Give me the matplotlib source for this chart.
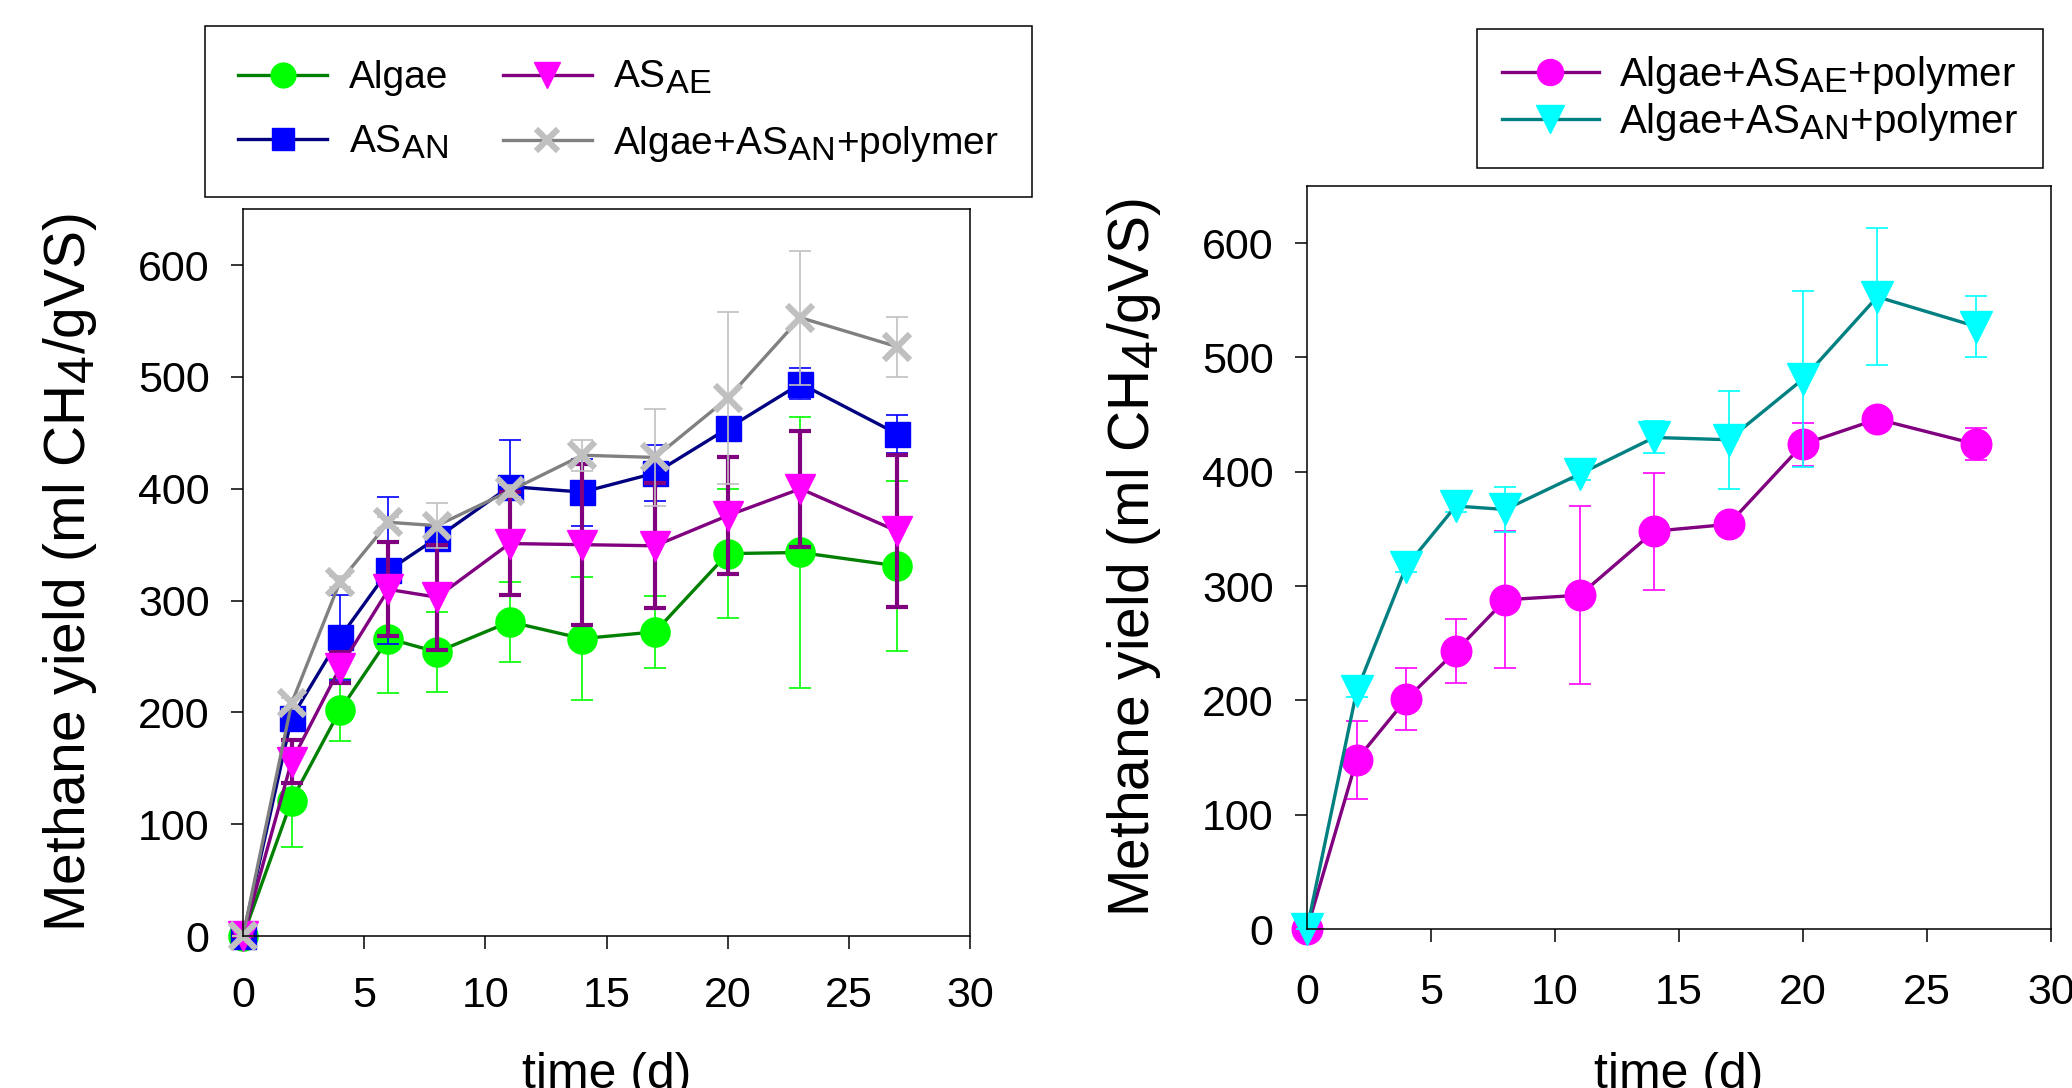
import matplotlib
matplotlib.use('Agg')
import matplotlib.pyplot as plt
import matplotlib._mathtext as mathtext_internal
from matplotlib.lines import Line2D

plt.rcParams['font.family'] = ['Liberation Sans', 'DejaVu Sans']
plt.rcParams['mathtext.fontset'] = 'custom'
plt.rcParams['mathtext.rm'] = 'Liberation Sans'
plt.rcParams['mathtext.it'] = 'Liberation Sans:italic'
plt.rcParams['mathtext.bf'] = 'Liberation Sans:bold'
# subscripts in the original are almost full size
mathtext_internal.SHRINK_FACTOR = 0.88

# time (d)
days = [0, 2, 4, 6, 8, 11, 14, 17, 20, 23, 27]

# methane yield (ml CH4/gVS) and error half-widths
algae = [0, 121, 202, 266, 254, 281, 266, 272, 342, 343, 331]
algae_err = [0, 41, 28, 49, 36, 36, 55, 32, 58, 121, 76]

as_an = [0, 195, 267, 327, 356, 402, 397, 414, 454, 494, 449]
as_an_err = [0, 8, 38, 66, 10, 42, 30, 25, 8, 14, 17]

as_ae = [0, 156, 240, 310, 303, 351, 350, 349, 376, 400, 362]
as_ae_err = [0, 19, 14, 42, 47, 46, 72, 56, 52, 52, 68]

an_poly = [0, 208, 317, 370, 367, 398, 430, 428, 481, 553, 527]
an_poly_err = [0, 5, 5, 5, 20, 5, 14, 43, 77, 60, 27]

ae_poly = [0, 148, 201, 243, 288, 292, 348, 354, 424, 446, 424]
ae_poly_err = [0, 34, 27, 28, 60, 78, 51, 5, 19, 5, 14]

TICK_FS = 31
XLABEL_FS = 36
YLABEL_FS = 41
LEG_FS = 28

fig = plt.figure(figsize=(20.72, 10.88), dpi=100)
ax1 = fig.add_axes([0.1173, 0.1397, 0.3509, 0.668])
ax2 = fig.add_axes([0.6308, 0.1461, 0.359, 0.683])


def series(ax, y, err, line_c, mk_c, err_c, marker, ms, elw=1.2, mew=1.0, capthick=1.2):
    ax.errorbar(days, y, yerr=err, fmt='none', ecolor=err_c, elinewidth=elw,
                capsize=8, capthick=capthick, clip_on=False)
    ax.plot(days, y, color=line_c, lw=2.4, marker=marker, ms=ms,
            mfc=mk_c, mec=mk_c, mew=mew, clip_on=False)
    return Line2D([], [], color=line_c, lw=2.4, marker=marker, ms=ms * 0.85,
                  mfc=mk_c, mec=mk_c, mew=mew)


h1 = series(ax1, algae, algae_err, '#008000', '#00ff00', '#00ff00', 'o', 21)
h2 = series(ax1, as_an, as_an_err, '#000080', '#0000ff', '#0000ff', 's', 18)
h3 = series(ax1, as_ae, as_ae_err, '#800080', '#ff00ff', '#800080', 'v', 22,
            elw=3.0, capthick=3.0)
h4 = series(ax1, an_poly, an_poly_err, '#808080', '#c0c0c0', '#c0c0c0', 'x', 19,
            mew=4.5)

g1 = series(ax2, ae_poly, ae_poly_err, '#800080', '#ff00ff', '#ff00ff', 'o', 22)
g2 = series(ax2, an_poly, an_poly_err, '#008080', '#00ffff', '#00ffff', 'v', 23)

for ax in (ax1, ax2):
    ax.set_xlim(0, 30)
    ax.set_ylim(0, 650)
    ax.set_xticks([0, 5, 10, 15, 20, 25, 30])
    ax.set_yticks([0, 100, 200, 300, 400, 500, 600])
    ax.tick_params(direction='out', length=9, width=1.1, labelsize=TICK_FS,
                   top=False, right=False)
    for s in ax.spines.values():
        s.set_linewidth(1.1)
    ax.set_xlabel('time (d)', fontsize=XLABEL_FS)
    ax.set_ylabel('Methane yield (ml CH$_4$/gVS)', fontsize=YLABEL_FS)

ax1.tick_params(axis='x', pad=20)
ax1.tick_params(axis='y', pad=15)
ax2.tick_params(axis='x', pad=23)
ax2.tick_params(axis='y', pad=15)
ax1.yaxis.set_label_coords(-0.198, 0.5)
ax2.yaxis.set_label_coords(-0.194, 0.5)
ax1.xaxis.set_label_coords(0.5, -0.16)
ax2.xaxis.set_label_coords(0.5, -0.165)

leg1 = ax1.legend([h1, h2, h3, h4],
                  ['Algae', r'AS$_{\mathregular{AN}}$', r'AS$_{\mathregular{AE}}$',
                   r'Algae+AS$_{\mathregular{AN}}$+polymer'],
                  ncol=2, loc='upper left', bbox_to_anchor=(0.0989, 0.976),
                  bbox_transform=fig.transFigure, fontsize=LEG_FS, fancybox=False,
                  edgecolor='black', framealpha=1, handlelength=2.3,
                  handletextpad=0.55, columnspacing=1.4, labelspacing=0.7,
                  borderpad=0.85, borderaxespad=0)
leg1.get_frame().set_linewidth(1.1)

leg2 = ax2.legend([g1, g2],
                  [r'Algae+AS$_{\mathregular{AE}}$+polymer',
                   r'Algae+AS$_{\mathregular{AN}}$+polymer'],
                  loc='upper left', bbox_to_anchor=(0.7128, 0.9733),
                  bbox_transform=fig.transFigure, fontsize=29, fancybox=False,
                  edgecolor='black', framealpha=1, handlelength=2.4,
                  handletextpad=0.5, labelspacing=0.12, borderpad=0.62,
                  borderaxespad=0)
leg2.get_frame().set_linewidth(1.1)

fig.savefig('out.png', dpi=100)
